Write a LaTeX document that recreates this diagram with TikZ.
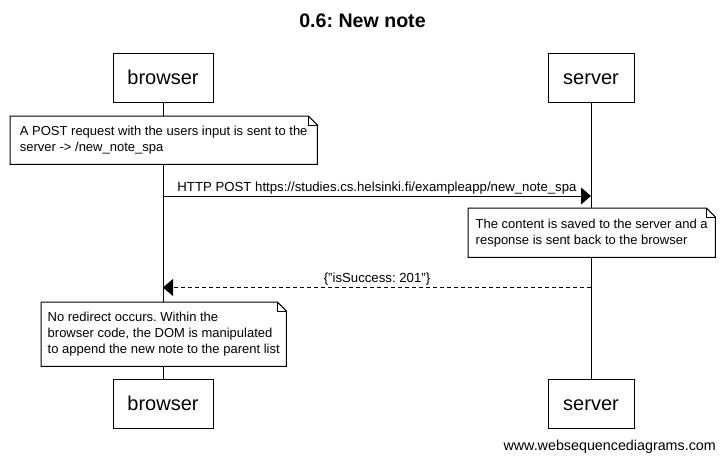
\documentclass[tikz,border=0pt]{standalone}
\usepackage{fontspec}
\setmainfont{Liberation Sans}
\usetikzlibrary{arrows.meta}
\frenchspacing
\tikzset{
	actor/.style={draw, line width=1pt, minimum height=49pt, text height=15pt, text depth=2pt, font=\fontsize{20}{24}\selectfont},
	note/.style={fill=white, anchor=north west, align=left, inner xsep=5pt, inner ysep=0pt, font=\fontsize{13}{16}\selectfont},
	msg/.style={line width=1pt, -{Triangle[length=10pt, width=17pt]}},
	reply/.style={msg, dash pattern=on 4pt off 3pt},
	msglabel/.style={above, inner sep=1.5pt, font=\fontsize{13.2}{16}\selectfont}
}
\begin{document}
\begin{tikzpicture}[x=1pt, y=-1pt]
		\useasboundingbox (0,0) rectangle (724,463);
		\node[font=\bfseries\fontsize{19.6}{22}\selectfont] (title) at (362.5,21) {0.6: New note};
		
		\node[actor, minimum width=100pt] (B1) at (163,77.5) {browser};
		\node[actor, minimum width=86pt] (S1) at (591,77.5) {server};
		\node[actor, minimum width=100pt] (B2) at (163,403.5) {browser};
		\node[actor, minimum width=86pt] (S2) at (591,403.5) {server};
		
		% Draw lifelines
		\draw[line width=1pt] (B1) -- (B2);
		\draw[line width=1pt] (S1) -- (S2);
		
		\node[note, minimum width=307pt, minimum height=48pt] (N1) at (10,116) {A POST request with the users input is sent to the\\server -> /new\_note\_spa};
		\node[note, minimum width=247pt, minimum height=49pt] (N2) at (468,208) {The content is saved to the server and a\\response is sent back to the browser};
		\node[note, minimum width=245pt, minimum height=64pt] (N3) at (41,302) {No redirect occurs. Within the\\browser code, the DOM is manipulated\\to append the new note to the parent list};
		
		% Draw folded note outlines
		\foreach \n in {N1, N2, N3} {
			\draw[line width=1pt] (\n.south west) -- (\n.north west) -- ([xshift=-9pt]\n.north east) -- ([yshift=-9pt]\n.north east) -- (\n.south east) -- cycle;
			\draw[line width=0.6pt] ([xshift=-9pt]\n.north east) |- ([yshift=-9pt]\n.north east);
		}
		
		\coordinate (M1B) at (163,196);
		\coordinate (M1S) at (591,196);
		\coordinate (M2S) at (591,287.5);
		\coordinate (M2B) at (163,287.5);
		
		% Draw messages with labels
		\draw[msg] (M1B) -- node[msglabel] {HTTP POST https://studies.cs.helsinki.fi/exampleapp/new\_note\_spa} (M1S);
		\draw[reply] (M2S) -- node[msglabel] {\{"isSuccess: 201"\}} (M2B);
		
		\node[anchor=east, inner sep=0pt, font=\fontsize{14.3}{17}\selectfont] (site) at (716,447) {www.websequencediagrams.com};
	\end{tikzpicture}
\end{document}
